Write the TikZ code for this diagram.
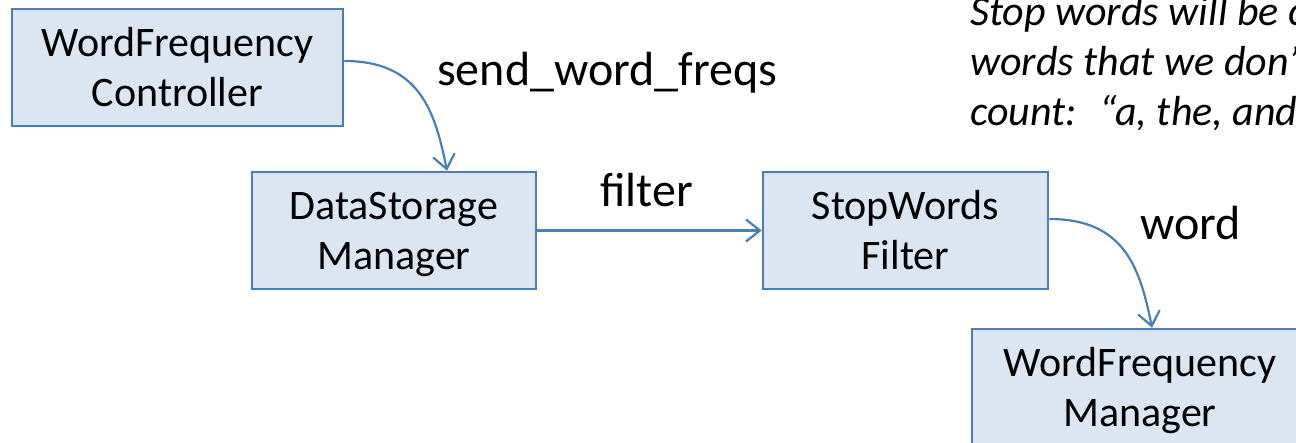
\documentclass[tikz,border=0pt]{standalone}
\usepackage{fontspec}
\setmainfont{Carlito}
\usetikzlibrary{arrows.meta}
\definecolor{boxfill}{RGB}{220,230,242}
\definecolor{boxline}{RGB}{74,126,187}
\newcommand\lnstrut{\rule[-6pt]{0pt}{41pt}}
\begin{document}
\begin{tikzpicture}[x=1pt,y=-1pt,
  box/.style={draw=boxline,fill=boxfill,line width=2.5pt,inner sep=0pt,align=center,
    minimum height=117pt,font=\fontsize{42}{50}\selectfont},
  conn/.style={draw=boxline,line width=2.2pt,
    -{Straight Barb[length=14pt,width=22pt,line width=2.2pt]}},
  lbl/.style={anchor=base west,inner sep=0pt,font=\fontsize{48}{56}\selectfont},
  note/.style={anchor=base west,inner sep=0pt,font=\fontsize{42}{50}\selectfont\itshape}]
\useasboundingbox (0,0) rectangle (1296,443);
\clip (0,0) rectangle (1296,443);
\node[box,minimum width=331pt] (wfc) at (177.5,67.5) {\lnstrut WordFrequency\\\lnstrut Controller};
\node[box,minimum width=284pt] (dsm) at (394,230.5) {\lnstrut DataStorage\\\lnstrut Manager};
\node[box,minimum width=285pt] (swf) at (905.5,230.5) {\lnstrut StopWords\\\lnstrut Filter};
\node[box,minimum width=336pt] (wfm) at (1140,387.5) {\lnstrut WordFrequency\\\lnstrut Manager};

\draw[conn] ([yshift=6.5pt]wfc.east) .. controls +(75,0) and +(-12,-60) .. ([xshift=53pt]dsm.north);
\draw[conn] (dsm.east) -- (swf.west);
\draw[conn] ([yshift=11.5pt]swf.east) .. controls +(75,0) and +(-12,-60) .. ([xshift=12pt]wfm.north);

\node[lbl] (l1) at (437,86) {send\_word\_freqs};
\node[lbl] (l2) at (600,207) {filter};
\node[lbl] (l3) at (1140,240) {word};

\node[note] (n1) at (970,26) {Stop words will be c};
\node[note] (n2) at (970,76) {words that we don’t};
\node[note] (n3) at (970,126) {count:~ “a, the, and”};
\end{tikzpicture}
\end{document}
